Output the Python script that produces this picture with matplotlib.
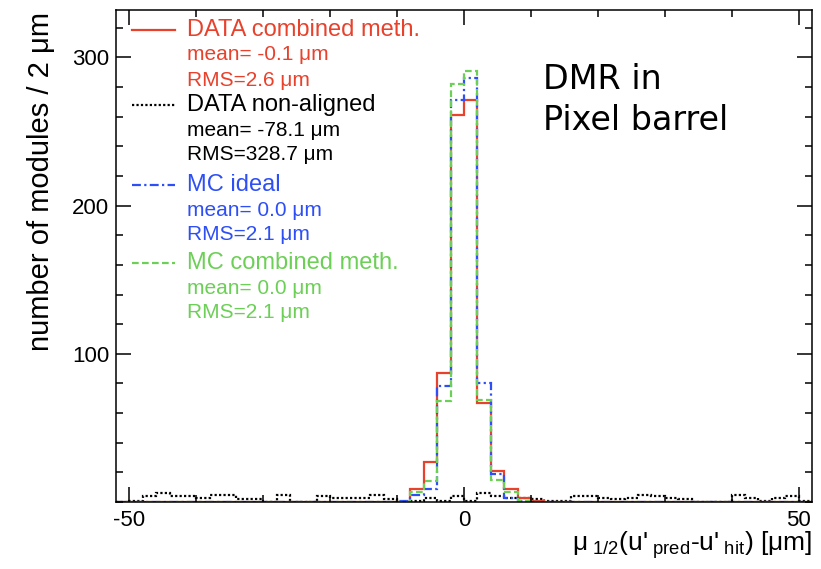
import numpy as np
import matplotlib
matplotlib.use('Agg')
import matplotlib.pyplot as plt
from matplotlib.ticker import MultipleLocator, FixedLocator
from matplotlib.lines import Line2D

plt.rcParams['font.family'] = ['Liberation Sans', 'DejaVu Sans']
plt.rcParams['mathtext.fontset'] = 'custom'
plt.rcParams['mathtext.rm'] = 'Liberation Sans'
plt.rcParams['mathtext.default'] = 'regular'
plt.rcParams['axes.unicode_minus'] = False

# DMR histograms, 2 um bins from -52 to 52 um
bin_edges = np.arange(-52, 53, 2)

data_combined = [0] * 22 + [9, 27, 87, 261, 271, 67, 21, 9, 3, 1] + [0] * 20
data_nonaligned = [0, 1, 4, 6, 4, 4, 3, 5, 5, 2, 2, 0, 5, 0, 0, 4, 3, 3, 3, 5, 2, 0,
                   1, 3, 1, 4, 1, 6, 4, 3, 3, 2, 1, 1, 4, 4, 3, 2, 3, 5, 4, 3,
                   2, 0, 0, 0, 5, 3, 1, 3, 4, 1]
mc_ideal = [0] * 21 + [1, 5, 9, 78, 271, 286, 80, 19, 3, 1] + [0] * 21
mc_combined = [0] * 22 + [7, 14, 68, 282, 291, 69, 15, 7, 1] + [0] * 21

legend_rows = [
    ("DATA combined meth.", "mean= -0.1 \u03bcm", "RMS=2.6 \u03bcm"),
    ("DATA non-aligned", "mean= -78.1 \u03bcm", "RMS=328.7 \u03bcm"),
    ("MC ideal", "mean= 0.0 \u03bcm", "RMS=2.1 \u03bcm"),
    ("MC combined meth.", "mean= 0.0 \u03bcm", "RMS=2.1 \u03bcm"),
]

RED = '#e8412c'
BLUE = '#2d4ff5'
GREEN = '#6ccf56'
styles = [
    dict(color=RED, ls='-'),
    dict(color='black', ls=(0, (1, 1))),
    dict(color=BLUE, ls=(0, (4, 1.5, 1, 1.5))),
    dict(color=GREEN, ls=(0, (3, 1.5))),
]

W, H = 821, 569


def fx(px):
    return px / W


def fy(py):
    return 1 - py / H


fig = plt.figure(figsize=(8.21, 5.69), dpi=100)
ax = fig.add_axes([fx(116), fy(502), fx(812) - fx(116), fy(10) - fy(502)])

ax.stairs(data_nonaligned, bin_edges, baseline=None, lw=1.6, **styles[1])
ax.stairs(data_combined, bin_edges, baseline=None, lw=1.6, **styles[0])
ax.stairs(mc_ideal, bin_edges, baseline=None, lw=1.6, **styles[2])
ax.stairs(mc_combined, bin_edges, baseline=None, lw=1.6, **styles[3])

ax.set_xlim(-52, 52)
ax.set_ylim(0, 332)
ax.xaxis.set_major_locator(FixedLocator([-50, 0, 50]))
ax.xaxis.set_minor_locator(MultipleLocator(10))
ax.yaxis.set_major_locator(FixedLocator([100, 200, 300]))
ax.yaxis.set_minor_locator(MultipleLocator(20))
ax.tick_params(which='both', direction='in', top=True, right=True, width=1.1)
ax.tick_params(which='major', length=11, labelsize=16, pad=5)
ax.tick_params(which='minor', length=5)
ax.tick_params(axis='x', which='major', pad=6)
for s in ax.spines.values():
    s.set_linewidth(1.1)

# axis titles
fig.text(fx(41), fy(12), "number of modules / 2 \u03bcm", rotation=90,
         ha='center', va='top', fontsize=21)
fig.text(fx(812), fy(551),
         r"$\mu_{\;1/2}$(u'$_{\;pred}$-u'$_{\;hit}$) [$\mu$m]",
         ha='right', va='baseline', fontsize=19)

# legend
head_y = [30, 105, 185, 263]
for (head, mean, rms), st, y in zip(legend_rows, styles, head_y):
    fig.add_artist(Line2D([fx(132), fx(175)], [fy(y), fy(y)], lw=1.6, **st))
    fig.text(fx(187), fy(y), head, color=st['color'], fontsize=17,
             ha='left', va='center')
    fig.text(fx(187), fy(y + 25), mean, color=st['color'], fontsize=15,
             ha='left', va='center')
    fig.text(fx(187), fy(y + 50), rms, color=st['color'], fontsize=15,
             ha='left', va='center')

fig.text(fx(543), fy(89), "DMR in", fontsize=24, family='DejaVu Sans',
         ha='left', va='baseline')
fig.text(fx(543), fy(130), "Pixel barrel", fontsize=24, family='DejaVu Sans',
         ha='left', va='baseline')

fig.savefig('out.png', dpi=100)
